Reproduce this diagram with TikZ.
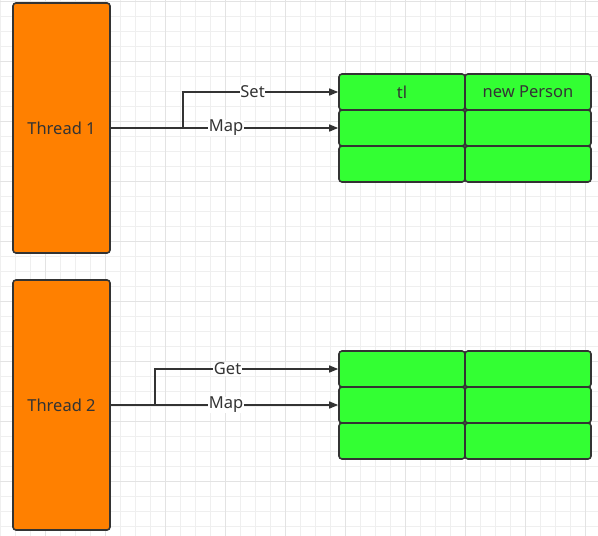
\documentclass[tikz,border=0pt]{standalone}
\usepackage{fontspec}
\setmainfont{Noto Sans}
\usetikzlibrary{arrows.meta}
\definecolor{ink}{HTML}{333333}
\definecolor{thr}{HTML}{FF8000}
\definecolor{cellg}{HTML}{33FF33}
\definecolor{gridminor}{HTML}{EFEFEF}
\definecolor{gridmajor}{HTML}{E3E3E3}
\tikzset{
  txt/.style={font=\fontsize{16.5}{19}\selectfont},
  thread/.style={draw=ink, line width=1.6pt, fill=thr, rounded corners=3pt, minimum width=97pt, minimum height=250pt, inner sep=0pt, text=ink, txt},
  cell/.style={draw=ink, line width=1.6pt, fill=cellg, rounded corners=3pt, minimum width=126pt, minimum height=36pt, inner sep=0pt, text=ink, txt},
  conn/.style={draw=ink, line width=1.4pt, -{Triangle[length=9pt,width=7pt]}},
  lbl/.style={fill=white, inner sep=0.5pt, text=ink, txt},
}
\begin{document}
\begin{tikzpicture}[x=1pt,y=-1pt]
\useasboundingbox (0,0) rectangle (598,536);
\fill[white] (0,0) rectangle (598,536);
\foreach \x in {0.7,15.7,...,598} \draw[gridminor, line width=0.8pt] (\x,0) -- (\x,536);
\foreach \y in {1,16,...,536} \draw[gridminor, line width=0.8pt] (0,\y) -- (598,\y);
\foreach \x in {45.7,105.7,...,598} \draw[gridmajor, line width=0.9pt] (\x,0) -- (\x,536);
\foreach \y in {1,61,...,536} \draw[gridmajor, line width=0.9pt] (0,\y) -- (598,\y);

\node[thread] (t1) at (61.5,128) {Thread 1};
\node[thread] (t2) at (61.5,405) {Thread 2};

% table 1
\node[cell] (a11) at (402,92) {tl};
\node[cell] (a12) at (528,92) {new Person};
\node[cell] (a21) at (402,128) {};
\node[cell] (a22) at (528,128) {};
\node[cell] (a31) at (402,164) {};
\node[cell] (a32) at (528,164) {};
% table 2
\node[cell] (b11) at (402,369) {};
\node[cell] (b12) at (528,369) {};
\node[cell] (b21) at (402,405) {};
\node[cell] (b22) at (528,405) {};
\node[cell] (b31) at (402,441) {};
\node[cell] (b32) at (528,441) {};

\coordinate (s1) at (183,128);
\coordinate (s2) at (155,405);

\draw[conn] (t1.east |- a21) -- node[lbl, pos=0.5, xshift=1.5pt] {Map} (a21.west);
\draw[conn] (s1) |- node[lbl, pos=0.75, xshift=-8pt] {Set} (a11.west);
\draw[conn] (t2.east |- b21) -- node[lbl, pos=0.5, xshift=1.5pt] {Map} (b21.west);
\draw[conn] (s2) |- node[lbl, pos=0.75, xshift=-19pt] {Get} (b11.west);
\end{tikzpicture}
\end{document}
